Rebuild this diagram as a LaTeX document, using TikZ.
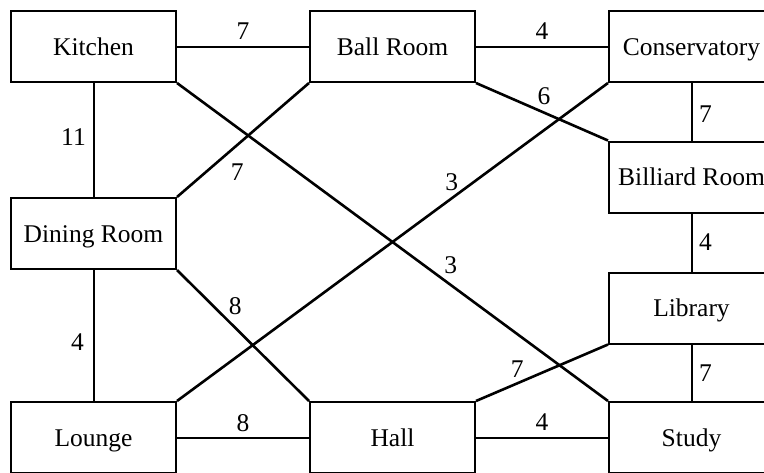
\documentclass[tikz,border=0pt]{standalone}
\usepackage{fontspec}
\setmainfont{Liberation Serif}
\begin{document}
\begin{tikzpicture}[x=1pt,y=-1pt,
  room/.style={draw, line width=2pt, minimum width=165pt, minimum height=71pt, inner sep=0pt, text height=22pt, text depth=5pt, font=\fontsize{25.5}{30}\selectfont},
  conn/.style={line width=2pt},
  diag/.style={line width=2.6pt},
  lbl/.style={inner sep=0pt, font=\fontsize{25.5}{30}\selectfont}]
\useasboundingbox (0,0) rectangle (764,472);
\clip (0,0) rectangle (764,472);
\node[room] (K)  at (93.5,46.5)  {Kitchen};
\node[room] (B)  at (392.5,46.5) {Ball Room};
\node[room] (C)  at (691.5,46.5) {Conservatory};
\node[room] (BR) at (691.5,177)  {Billiard Room};
\node[room] (D)  at (93.5,233.5) {Dining Room};
\node[room] (LI) at (691.5,308)  {Library};
\node[room] (LO) at (93.5,437.5) {Lounge};
\node[room] (H)  at (392.5,437.5) {Hall};
\node[room] (S)  at (691.5,437.5) {Study};
% horizontal
\draw[conn] (K.east) -- node[lbl, pos=0.5, yshift=15pt]{7} (B.west);
\draw[conn] (B.east) -- node[lbl, pos=0.5, yshift=15pt]{4} (C.west);
\draw[conn] (LO.east) -- node[lbl, pos=0.5, yshift=14pt]{8} (H.west);
\draw[conn] (H.east) -- node[lbl, pos=0.5, yshift=15pt]{4} (S.west);
% vertical
\draw[conn] (K.south) -- node[lbl, pos=0.5, xshift=-20pt, yshift=3pt]{11} (D.north);
\draw[conn] (D.south) -- node[lbl, pos=0.5, xshift=-16pt, yshift=-7pt]{4} (LO.north);
\draw[conn] (C.south) -- node[lbl, pos=0.5, xshift=14pt, yshift=-2pt]{7} (BR.north);
\draw[conn] (BR.south) -- node[lbl, pos=0.5, xshift=14pt]{4} (LI.north);
\draw[conn] (LI.south) -- node[lbl, pos=0.5, xshift=14pt]{7} (S.north);
% diagonal
\draw[diag] (K.south east) -- node[lbl, pos=0.613, xshift=9.6pt, yshift=13.2pt]{3} (S.north west);
\draw[diag] (B.south west) -- node[lbl, pos=0.644, xshift=13.3pt, yshift=-15.3pt]{7} (D.north east);
\draw[diag] (B.south east) -- node[lbl, pos=0.468, xshift=6.3pt, yshift=14.1pt]{6} (BR.north west);
\draw[diag] (C.south west) -- node[lbl, pos=0.345, xshift=-7.6pt, yshift=10.4pt]{3} (LO.north east);
\draw[diag] (D.south east) -- node[lbl, pos=0.36, xshift=10.8pt, yshift=10.9pt]{8} (H.north west);
\draw[diag] (LI.south west) -- node[lbl, pos=0.649, xshift=-5pt, yshift=11.6pt]{7} (H.north east);
\end{tikzpicture}
\end{document}
